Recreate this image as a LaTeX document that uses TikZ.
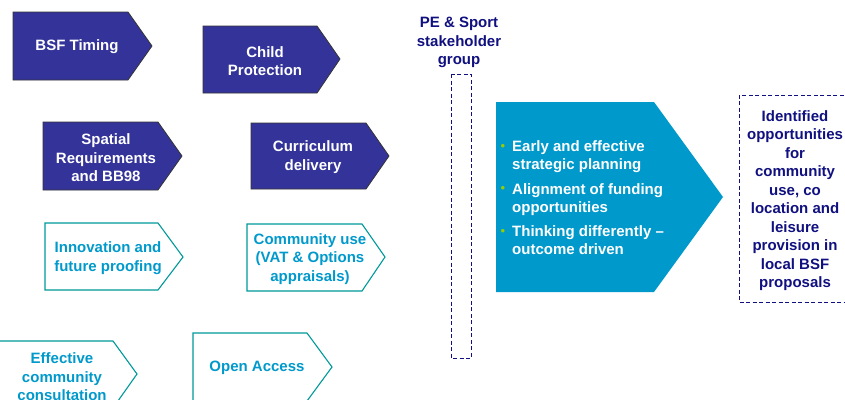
\documentclass[tikz,border=0pt]{standalone}
\usepackage{fontspec}
\setmainfont{Liberation Sans}
\definecolor{navyfill}{RGB}{51,51,153}
\definecolor{navytext}{RGB}{16,16,128}
\definecolor{tealline}{RGB}{0,153,153}
\definecolor{lightblue}{RGB}{0,153,204}
\definecolor{bulgreen}{RGB}{153,204,0}
\begin{document}
\begin{tikzpicture}[x=1pt,y=-1pt,
  darkshape/.style={fill=navyfill,draw=black!80,line width=0.8pt},
  lightshape/.style={fill=white,draw=tealline,line width=1.1pt},
  darktext/.style={text=white,font=\fontsize{15}{18.5}\selectfont\bfseries,align=center,inner sep=0pt},
  lighttext/.style={text=lightblue,font=\fontsize{15}{18.5}\selectfont\bfseries,align=center,inner sep=0pt},
  navylabel/.style={text=navytext,font=\fontsize{15}{18.5}\selectfont\bfseries,align=center,inner sep=0pt},
  bultext/.style={text=white,font=\fontsize{15}{18}\selectfont\bfseries,align=left,inner sep=0pt,anchor=base west},
  bulmark/.style={text=bulgreen,font=\fontsize{13}{14}\selectfont,inner sep=0pt,anchor=base},
  dashbox/.style={draw=navytext,line width=1pt,dash pattern=on 4pt off 2.5pt}
]
\useasboundingbox (0,0) rectangle (845,399);
\clip (0,0) rectangle (845,399);
% dark arrows
\draw[darkshape] (13,12) -- (128,12) -- (152,46) -- (128,80) -- (13,80) -- cycle;
\node[darktext] (bsf) at (77,47) {BSF Timing};
\draw[darkshape] (203,26) -- (317,26) -- (340,59) -- (317,93) -- (203,93) -- cycle;
\node[darktext] (child) at (265,61) {Child\\Protection};
\draw[darkshape] (43,122) -- (158,122) -- (182,156) -- (158,190) -- (43,190) -- cycle;
\node[darktext] (spatial) at (106,158) {Spatial\\Requirements\\and BB98};
\draw[darkshape] (251,123) -- (366,123) -- (389,156) -- (366,189) -- (251,189) -- cycle;
\node[darktext] (curr) at (313,157) {Curriculum\\delivery};
% light arrows
\draw[lightshape] (45,223) -- (158,223) -- (183,257) -- (158,290) -- (45,290) -- cycle;
\node[lighttext] (innov) at (108,258) {Innovation and\\future proofing};
\draw[lightshape] (247,224) -- (362,224) -- (385,257) -- (362,291) -- (247,291) -- cycle;
\node[lighttext] (comm) at (310,259) {Community use\\(VAT \& Options\\appraisals)};
\draw[lightshape] (-1,341) -- (113,341) -- (137,374) -- (113,408) -- (-1,408) -- cycle;
\node[lighttext] (effect) at (62,377) {Effective\\community\\consultation};
\draw[lightshape] (193,333) -- (307,333) -- (332,367) -- (307,401) -- (193,401) -- cycle;
\node[lighttext] (open) at (257,368) {Open Access};
% stakeholder group
\node[navylabel] (pe) at (459,42.5) {PE \& Sport\\stakeholder\\group};
\draw[dashbox] (451,74) rectangle (471,358);
% big arrow
\fill[lightblue] (496,102) -- (654,102) -- (723,197) -- (654,292) -- (496,292) -- cycle;
\node[bulmark] (m1) at (503,150) {•};
\node[bultext] (t1) at (512,169) {Early and effective\\strategic planning};
\node[bulmark] (m2) at (503,192) {•};
\node[bultext] (t2) at (512,212) {Alignment of funding\\opportunities};
\node[bulmark] (m3) at (503,235) {•};
\node[bultext] (t3) at (512,254) {Thinking differently –\\outcome driven};
% outcome box
\draw[dashbox] (850,95) -- (739,95) -- (739,302) -- (850,302);
\node[navylabel] (out) at (795,200.5) {Identified\\opportunities\\for\\community\\use, co\\location and\\leisure\\provision in\\local BSF\\proposals};
\end{tikzpicture}
\end{document}
